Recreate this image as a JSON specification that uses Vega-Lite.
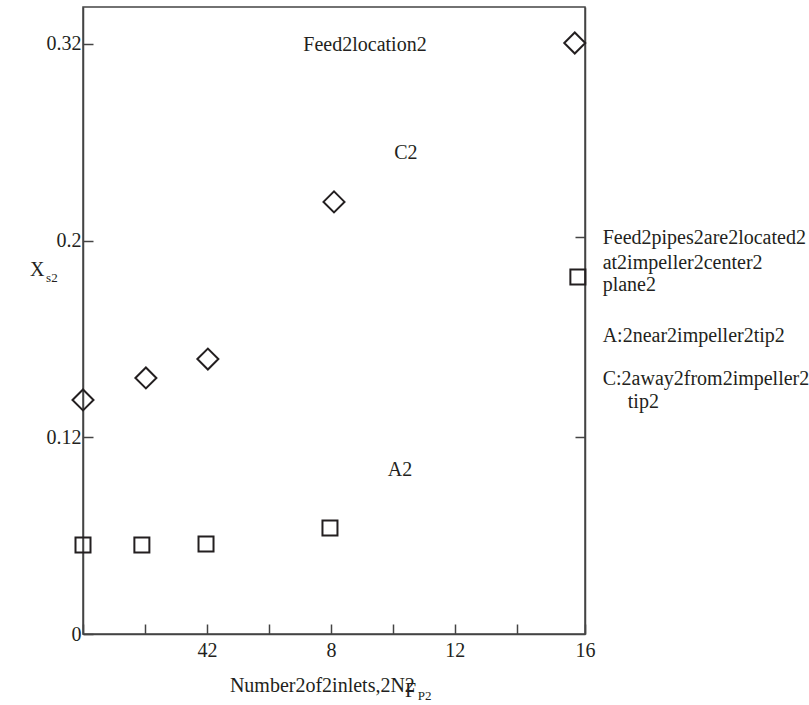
{
  "$schema": "https://vega.github.io/schema/vega-lite/v6.json",
  "width": 502,
  "height": 627,
  "autosize": {"type": "none"},
  "padding": {"left": 83, "top": 7, "right": 224, "bottom": 71},
  "background": "white",
  "config": {
    "view": {"stroke": "#444444", "strokeWidth": 1.5},
    "font": "Liberation Serif",
    "axis": {
      "labelFont": "Liberation Serif",
      "labelFontSize": 20,
      "labelColor": "#231f20",
      "domainColor": "#444444",
      "domainWidth": 1.5,
      "tickColor": "#444444",
      "tickWidth": 1.5,
      "grid": false,
      "title": null
    }
  },
  "datasets": {
    "points": [
      {"n": 0, "xs": 0.119, "loc": "C"},
      {"n": 2.03, "xs": 0.1302, "loc": "C"},
      {"n": 4.03, "xs": 0.1398, "loc": "C"},
      {"n": 8.1, "xs": 0.2197, "loc": "C"},
      {"n": 15.87, "xs": 0.3005, "loc": "C"},
      {"n": 0, "xs": 0.0453, "loc": "A"},
      {"n": 1.9, "xs": 0.0453, "loc": "A"},
      {"n": 3.97, "xs": 0.0458, "loc": "A"},
      {"n": 7.97, "xs": 0.0539, "loc": "A"},
      {"n": 15.97, "xs": 0.1815, "loc": "A"}
    ],
    "centerText": [
      {"tx": 9.1, "ty": 0.2995, "label": "Feed2location2"},
      {"tx": 10.42, "ty": 0.2446, "label": "C2"},
      {"tx": 10.23, "ty": 0.0834, "label": "A2"}
    ],
    "leftText": [
      {"tx": 16.77, "ty": 0.2014, "label": "Feed2pipes2are2located2"},
      {"tx": 16.77, "ty": 0.1886, "label": "at2impeller2center2"},
      {"tx": 16.77, "ty": 0.1775, "label": "plane2"},
      {"tx": 16.77, "ty": 0.1515, "label": "A:2near2impeller2tip2"},
      {"tx": 16.77, "ty": 0.1297, "label": "C:2away2from2impeller2"},
      {"tx": 17.58, "ty": 0.118, "label": "tip2"},
      {"tx": -1.71, "ty": 0.1851, "label": "X"},
      {"tx": 4.74, "ty": -0.0264, "label": "Number2of2inlets,2N2"},
      {"tx": 10.39, "ty": -0.029, "label": "F"}
    ],
    "subText": [
      {"tx": -1.19, "ty": 0.181, "label": "s2"},
      {"tx": 10.8, "ty": -0.0313, "label": "P2"}
    ]
  },
  "layer": [
    {
      "data": {"name": "points"},
      "mark": {"type": "point", "filled": false, "stroke": "#231f20", "strokeWidth": 2, "opacity": 1},
      "encoding": {
        "x": {
          "field": "n", "type": "quantitative",
          "scale": {"domain": [0, 16.2], "nice": false, "zero": false},
          "axis": {
            "values": [0, 2, 4, 6, 8, 10, 12, 14, 16.2],
            "labelExpr": "datum.value == 4 ? '42' : datum.value == 8 ? '8' : datum.value == 12 ? '12' : datum.value == 16.2 ? '16' : ''",
            "tickSize": -10,
            "labelPadding": 16,
            "labelFlush": false,
            "labelOverlap": false
          }
        },
        "y": {
          "field": "xs", "type": "quantitative",
          "scale": {"domain": [0, 0.3188], "nice": false, "zero": false},
          "axis": {
            "values": [0, 0.1, 0.2, 0.3],
            "labelExpr": "datum.value == 0.1 ? '0.12' : datum.value == 0.3 ? '0.32' : datum.value == 0.2 ? '0.2' : '0'",
            "tickSize": -10,
            "labelPadding": 12,
            "labelFlush": false,
            "labelOverlap": false
          }
        },
        "shape": {"field": "loc", "type": "nominal", "scale": {"domain": ["A", "C"], "range": ["square", "diamond"]}, "legend": null},
        "size": {"field": "loc", "type": "nominal", "scale": {"domain": ["A", "C"], "range": [225, 441]}, "legend": null}
      }
    },
    {
      "data": {"name": "points"},
      "mark": {"type": "point", "opacity": 0},
      "encoding": {
        "x": {"field": "n", "type": "quantitative"},
        "y": {
          "field": "xs", "type": "quantitative",
          "axis": {"orient": "right", "values": [0.1002, 0.2019], "labels": false, "tickSize": -10, "domain": true}
        }
      }
    },
    {
      "data": {"name": "centerText"},
      "mark": {"type": "text", "align": "center", "baseline": "middle", "fontSize": 20, "font": "Liberation Serif", "color": "#231f20"},
      "encoding": {
        "x": {"field": "tx", "type": "quantitative"},
        "y": {"field": "ty", "type": "quantitative", "axis": null},
        "text": {"field": "label"}
      }
    },
    {
      "data": {"name": "leftText"},
      "mark": {"type": "text", "align": "left", "baseline": "middle", "fontSize": 20, "font": "Liberation Serif", "color": "#231f20"},
      "encoding": {
        "x": {"field": "tx", "type": "quantitative"},
        "y": {"field": "ty", "type": "quantitative", "axis": null},
        "text": {"field": "label"}
      }
    },
    {
      "data": {"name": "subText"},
      "mark": {"type": "text", "align": "left", "baseline": "middle", "fontSize": 13, "font": "Liberation Serif", "color": "#231f20"},
      "encoding": {
        "x": {"field": "tx", "type": "quantitative"},
        "y": {"field": "ty", "type": "quantitative", "axis": null},
        "text": {"field": "label"}
      }
    }
  ],
  "resolve": {"axis": {"y": "independent"}}
}
